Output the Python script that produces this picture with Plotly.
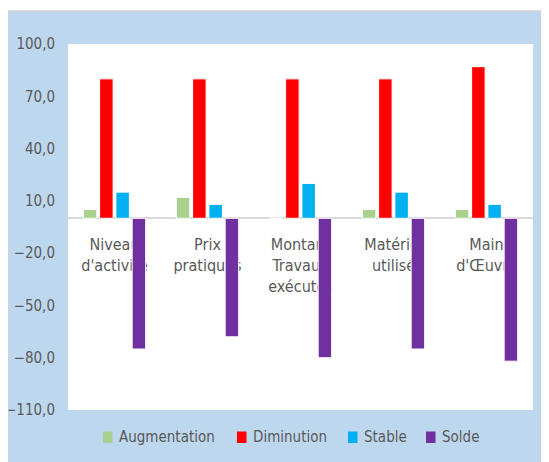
import plotly.graph_objects as go

categories = ["Niveau<br>d'activité", "Prix<br>pratiqués", "Montant<br>Travaux<br>exécutés",
              "Matériel<br>utilisé", "Main<br>d'Œuvre"]
augmentation = [5, 12, 0, 5, 5]
diminution = [80, 80, 80, 80, 87]
stable = [15, 8, 20, 15, 8]
solde = [-75, -68, -80, -75, -82]

series = [
    ("Augmentation", augmentation, "#A9D18E"),
    ("Diminution", diminution, "#FF0000"),
    ("Stable", stable, "#00B0F0"),
    ("Solde", solde, "#7030A0"),
]

FONT = "DejaVu Sans Condensed, Roboto, sans-serif"
GREY = "#595959"


# page pixel -> paper coords (plot area spans x 68..533, y 44..410 on the page)
def px(x):
    return (x - 68) / 465


def py(y):
    return (410 - y) / 366


fig = go.Figure()
for name, vals, color in series:
    fig.add_trace(go.Bar(
        x=categories, y=vals, name=name, showlegend=False,
        marker=dict(color=color, line=dict(color="white", width=1)),
    ))

# thin white strip + grey border at the top/left of the blue frame
fig.add_shape(type="rect", xref="paper", yref="paper", x0=-0.3, x1=1.3, y0=py(11), y1=1.3,
              fillcolor="white", line_width=0)
fig.add_shape(type="line", xref="paper", yref="paper", x0=px(8), x1=px(8), y0=-0.3, y1=py(11),
              line=dict(color="#D0D0D0", width=1.5))
fig.add_shape(type="line", xref="paper", yref="paper", x0=px(8), x1=1.3, y0=py(11), y1=py(11),
              line=dict(color="#D0D0D0", width=1.5))

# legend drawn by hand: tight marker/text spacing like the original
legend_marker_x = [103, 237, 348, 426]
for (name, _, color), mx in zip(series, legend_marker_x):
    fig.add_shape(type="rect", xref="paper", yref="paper",
                  x0=px(mx), x1=px(mx + 9.5), y0=py(443), y1=py(431.5),
                  fillcolor=color, line_width=0)
    fig.add_annotation(text=name, xref="paper", yref="paper", x=px(mx + 13.5), y=py(437),
                       xanchor="left", yanchor="middle", showarrow=False,
                       font=dict(size=15, color=GREY, family=FONT))

# page body has an 8px margin, so the figure is 8px smaller than the window
fig.update_layout(
    width=541, height=454,
    margin=dict(l=60, r=16, t=36, b=52),
    paper_bgcolor="#BDD7EE",
    plot_bgcolor="white",
    separators=", ",
    font=dict(family=FONT, color=GREY),
    barmode="group",
    bargap=0.3,
    bargroupgap=0.17,
    showlegend=False,
)
fig.update_yaxes(
    range=[-110, 100], tickvals=list(range(-110, 101, 30)), tickformat=".1f",
    showgrid=False, zeroline=False, tickfont=dict(size=15, color=GREY),
    ticks="", ticklabelstandoff=12, automargin=False,
)
fig.update_xaxes(
    anchor="free", position=110 / 210, showline=True, linecolor="#D9D9D9", linewidth=1.5,
    showgrid=False, ticks="", tickfont=dict(size=16, color=GREY), layer="below traces",
    ticklabelstandoff=12, automargin=False,
)

fig.write_html("out.html")
